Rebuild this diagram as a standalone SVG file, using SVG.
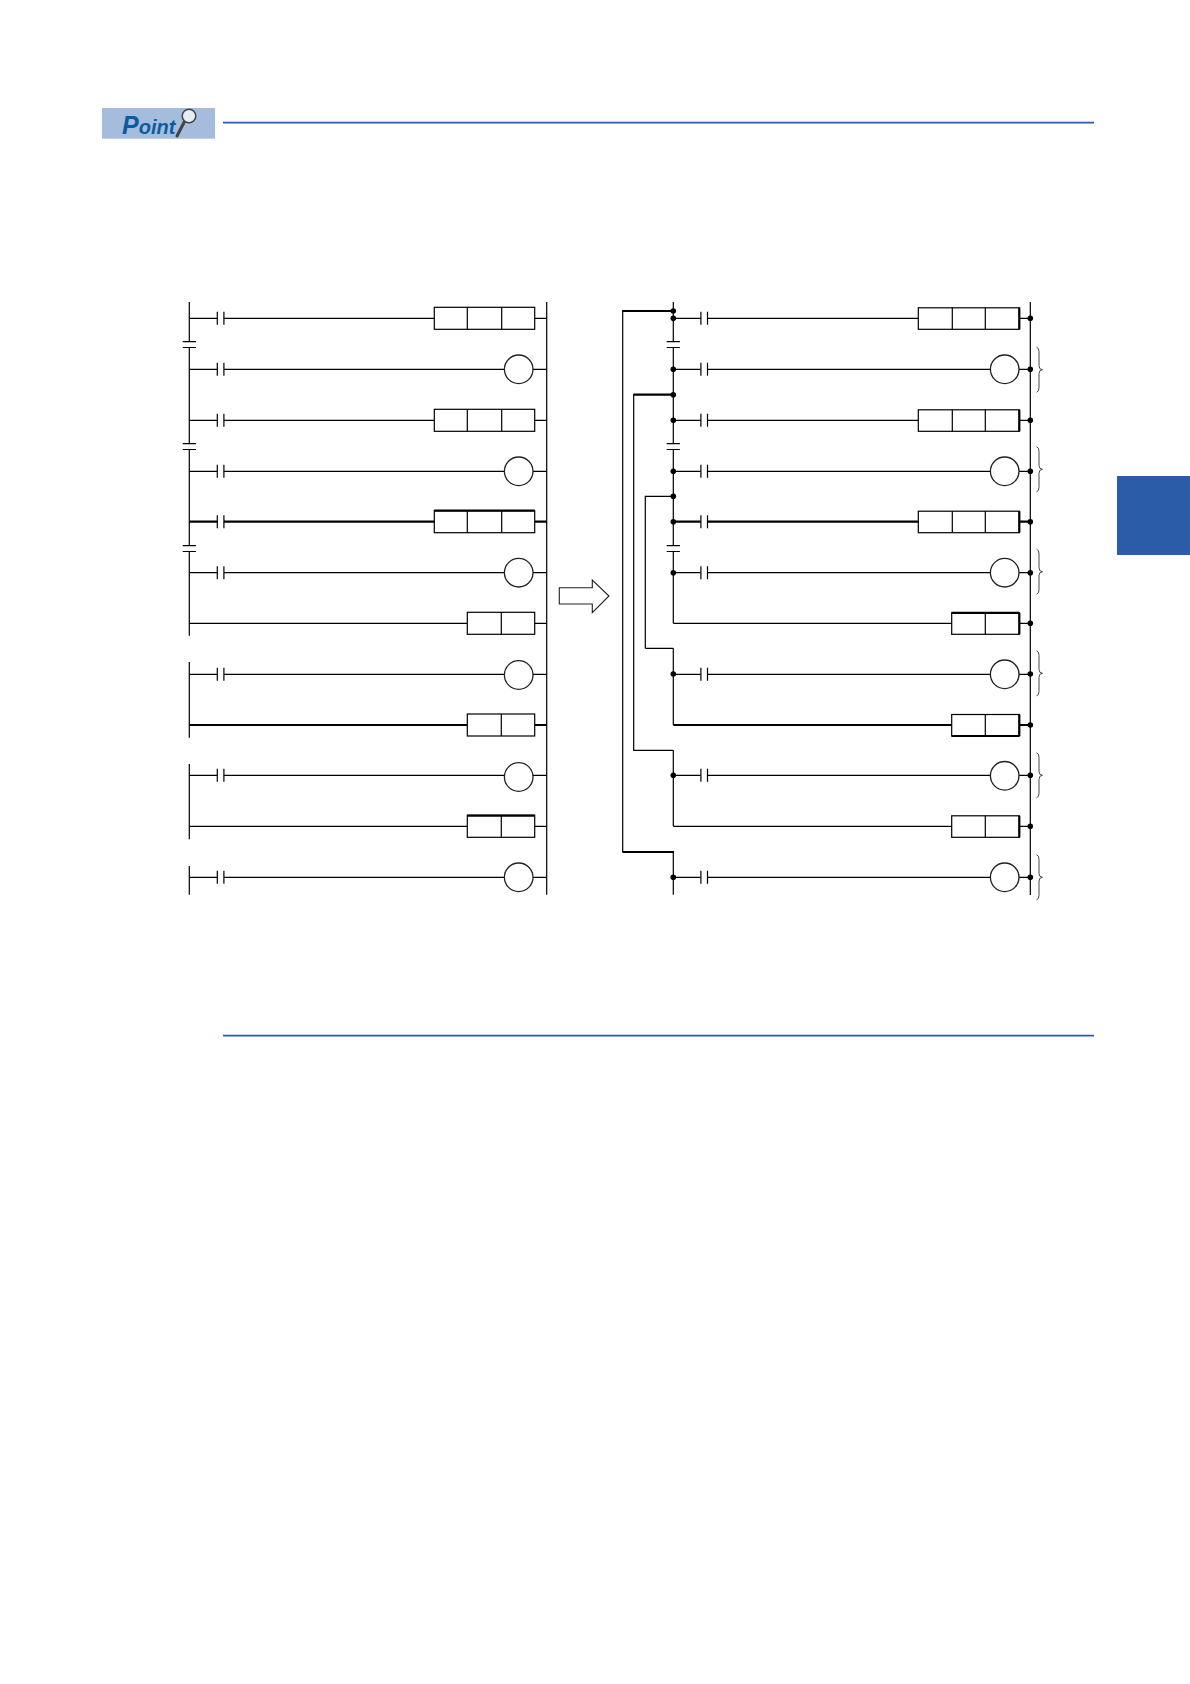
<svg xmlns="http://www.w3.org/2000/svg" width="1190" height="1684" viewBox="0 0 1190 1684">
<style>
.w{fill:none;stroke:#000;stroke-width:1.2}
.t{fill:none;stroke:#000;stroke-width:2.2}
.b{fill:#fff;stroke:#000;stroke-width:1.2}
.o{fill:#fff;stroke:#222;stroke-width:1.3}
.r{fill:none;stroke:#2a5ca8;stroke-width:1.7}
.d{fill:#000}
.br{fill:none;stroke:#333;stroke-width:.9}
.e{fill:none;stroke:#000;stroke-width:2.2}
</style>
<defs>
<g id="contact"><path class="w" d="M0-6.5V6.5M6.6-6.5V6.5"/></g>
<g id="box3"><rect class="b" x="0" y="-11" width="100.4" height="22"/><path class="w" d="M33 -11V11M67.4 -11V11"/></g>
<g id="box2"><rect class="b" x="0" y="-11" width="67.4" height="22"/><path class="w" d="M34 -11V11"/></g>
<g id="box3r"><rect class="b" x="0" y="-10.5" width="101" height="21.5"/><path class="w" d="M34 -10.5V11M67 -10.5V11"/><path class="e" d="M101-10.5V11"/></g>
<g id="box2r"><rect class="b" x="0" y="-10.5" width="67.6" height="21.5"/><path class="w" d="M33.6 -10.5V11"/><path class="e" d="M67.6-10.5V11"/></g>
<circle id="coil" class="o" r="14.3"/>
<path id="plates" class="w" d="M-6.6 0H6.6M-6.6 5.8H6.6"/>
<path id="brace" class="br" d="M1036.5-22.5Q1039-22 1039-18V-4Q1039 0 1042.5 0Q1039 0 1039 4V18Q1039 22 1036.5 22.5"/>
</defs>
<rect width="1190" height="1684" fill="#fff"/>

<g id="point-badge">
<rect x="102" y="108" width="113" height="30.7" fill="#a5bcdc"/>
<text x="122" y="134" font-family="Liberation Sans, sans-serif" font-weight="700" font-style="italic" fill="#0b5c9e"><tspan font-size="25">P</tspan><tspan font-size="20">oint</tspan></text>
<path d="M184.5 121.5L177 136" stroke="#444" stroke-width="3" fill="none" stroke-linecap="round"/>
<circle cx="189" cy="116" r="6.8" fill="#e6edf4" stroke="#444" stroke-width="1.5"/>
</g>
<path id="rule-top" class="r" d="M223 122.7H1094"/>
<path id="rule-bottom" class="r" d="M223 1035.7H1094"/>
<rect id="side-tab" x="1117" y="476" width="73" height="79" fill="#2a5ca8"/>

<g id="connectors">
<g id="left-wires">
<path class="w" d="M189.3 302V341.7M189.3 347.5V443.7M189.3 449.5V545.7M189.3 551.5V635.7M189.3 662V737.7M189.3 764V839.3M189.3 866V894.7M546.7 302V894.7"/>
<path class="w" d="M189.3 318.3H217.3M224 318.3H434.3M534.7 318.3H546.7"/>
<path class="w" d="M189.3 369.3H217.3M224 369.3H504.4M533 369.3H546.7"/>
<path class="w" d="M189.3 420.3H217.3M224 420.3H434.3M534.7 420.3H546.7"/>
<path class="w" d="M189.3 471.3H217.3M224 471.3H504.4M533 471.3H546.7"/>
<path class="t" d="M189.3 521.7H217.3M224 521.7H434.3M534.7 521.7H546.7"/>
<path class="w" d="M189.3 572.7H217.3M224 572.7H504.4M533 572.7H546.7"/>
<path class="w" d="M189.3 623.3H467.3M534.7 623.3H546.7"/>
<path class="w" d="M189.3 674.3H217.3M224 674.3H504.4M533 674.3H546.7"/>
<path class="t" d="M189.3 725H467.3M534.7 725H546.7"/>
<path class="w" d="M189.3 775.3H217.3M224 775.3H504.4M533 775.3H546.7"/>
<path class="w" d="M189.3 826.3H467.3M534.7 826.3H546.7"/>
<path class="w" d="M189.3 877.3H217.3M224 877.3H504.4M533 877.3H546.7"/>
</g>
<g id="right-wires">
<path class="w" d="M673.3 302V341.7M673.3 347.5V443.7M673.3 449.5V545.7M673.3 551.5V623.3M673.3 648.3V725M673.3 750.3V826.3M673.3 852V894.7M1030.3 302V895"/>
<path class="t" d="M673.3 311H622.7M673.3 394.7H633.7M622.7 852H674"/>
<path class="w" d="M622.7 310V852.5M633.7 394V750.3H673.3M645.3 648.3V496.3H673.3M645.3 648.3H673.3"/>
<path class="w" d="M673.3 318.3H700.7M708 318.3H918.3M1019.3 318.3H1030.3"/>
<path class="w" d="M673.3 369.3H700.7M708 369.3H990.4M1019 369.3H1030.3"/>
<path class="w" d="M673.3 420.3H700.7M708 420.3H918.3M1019.3 420.3H1030.3"/>
<path class="w" d="M673.3 471.3H700.7M708 471.3H990.4M1019 471.3H1030.3"/>
<path class="t" d="M673.3 521.7H700.7M708 521.7H918.3M1019.3 521.7H1030.3"/>
<path class="w" d="M673.3 572.7H700.7M708 572.7H990.4M1019 572.7H1030.3"/>
<path class="w" d="M673.3 623.3H951.7M1019.3 623.3H1030.3"/>
<path class="w" d="M673.3 674.3H700.7M708 674.3H990.4M1019 674.3H1030.3"/>
<path class="t" d="M673.3 725H951.7M1019.3 725H1030.3"/>
<path class="w" d="M673.3 775.3H700.7M708 775.3H990.4M1019 775.3H1030.3"/>
<path class="w" d="M673.3 826.3H951.7M1019.3 826.3H1030.3"/>
<path class="w" d="M673.3 877.3H700.7M708 877.3H990.4M1019 877.3H1030.3"/>
</g>
<g id="junctions">
<circle class="d" cx="673.3" cy="311" r="2.8"/><circle class="d" cx="673.3" cy="318.3" r="2.8"/><circle class="d" cx="673.3" cy="369.3" r="2.8"/><circle class="d" cx="673.3" cy="394.7" r="2.8"/><circle class="d" cx="673.3" cy="420.3" r="2.8"/><circle class="d" cx="673.3" cy="471.3" r="2.8"/><circle class="d" cx="673.3" cy="496.3" r="2.8"/><circle class="d" cx="673.3" cy="521.7" r="2.8"/><circle class="d" cx="673.3" cy="572.7" r="2.8"/><circle class="d" cx="673.3" cy="674" r="2.8"/><circle class="d" cx="673.3" cy="775.3" r="2.8"/><circle class="d" cx="673.3" cy="877.3" r="2.8"/>
<circle class="d" cx="1030.3" cy="318.3" r="2.8"/><circle class="d" cx="1030.3" cy="369.3" r="2.8"/><circle class="d" cx="1030.3" cy="420.3" r="2.8"/><circle class="d" cx="1030.3" cy="471.3" r="2.8"/><circle class="d" cx="1030.3" cy="521.7" r="2.8"/><circle class="d" cx="1030.3" cy="572.7" r="2.8"/><circle class="d" cx="1030.3" cy="623.3" r="2.8"/><circle class="d" cx="1030.3" cy="674" r="2.8"/><circle class="d" cx="1030.3" cy="725" r="2.8"/><circle class="d" cx="1030.3" cy="775.3" r="2.8"/><circle class="d" cx="1030.3" cy="826.3" r="2.8"/><circle class="d" cx="1030.3" cy="877.3" r="2.8"/>
</g>
</g>

<g id="left-contacts">
<g id="lc1"><use href="#contact" x="217.3" y="318.3"/></g>
<g id="lc2"><use href="#contact" x="217.3" y="369.3"/></g>
<g id="lc3"><use href="#contact" x="217.3" y="420.3"/></g>
<g id="lc4"><use href="#contact" x="217.3" y="471.3"/></g>
<g id="lc5"><use href="#contact" x="217.3" y="521.7"/></g>
<g id="lc6"><use href="#contact" x="217.3" y="572.7"/></g>
<g id="lc8"><use href="#contact" x="217.3" y="674.3"/></g>
<g id="lc10"><use href="#contact" x="217.3" y="775.3"/></g>
<g id="lc12"><use href="#contact" x="217.3" y="877.3"/></g>
<g id="lp1"><use href="#plates" x="189.3" y="341.7"/></g>
<g id="lp2"><use href="#plates" x="189.3" y="443.7"/></g>
<g id="lp3"><use href="#plates" x="189.3" y="545.7"/></g>
</g>
<g id="left-outputs">
<g id="lo1"><use href="#box3" x="434.3" y="318.3"/></g>
<g id="lo2"><use href="#coil" x="518.7" y="369.3"/></g>
<g id="lo3"><use href="#box3" x="434.3" y="420.3"/></g>
<g id="lo4"><use href="#coil" x="518.7" y="471.3"/></g>
<g id="lo5"><use href="#box3" x="434.3" y="521.7"/><path class="e" d="M434.3 510.7H534.7"/></g>
<g id="lo6"><use href="#coil" x="518.7" y="572.7"/></g>
<g id="lo7"><use href="#box2" x="467.3" y="623.3"/></g>
<g id="lo8"><use href="#coil" x="518.7" y="675"/></g>
<g id="lo9"><use href="#box2" x="467.3" y="725"/></g>
<g id="lo10"><use href="#coil" x="518.7" y="777"/></g>
<g id="lo11"><use href="#box2" x="467.3" y="826.3"/><path class="e" d="M467.3 815.7H534.7"/></g>
<g id="lo12"><use href="#coil" x="518.7" y="877.3"/></g>
</g>

<path id="arrow" fill="#fff" stroke="#222" stroke-width="1.1" d="M559.3 587.7H592.3V580L609 596L592.3 612.7V604H559.3Z"/>

<g id="right-contacts">
<g id="rc1"><use href="#contact" x="700.9" y="318.3"/></g>
<g id="rc2"><use href="#contact" x="700.9" y="369.3"/></g>
<g id="rc3"><use href="#contact" x="700.9" y="420.3"/></g>
<g id="rc4"><use href="#contact" x="700.9" y="471.3"/></g>
<g id="rc5"><use href="#contact" x="700.9" y="521.7"/></g>
<g id="rc6"><use href="#contact" x="700.9" y="572.7"/></g>
<g id="rc8"><use href="#contact" x="700.9" y="674.3"/></g>
<g id="rc10"><use href="#contact" x="700.9" y="775.3"/></g>
<g id="rc12"><use href="#contact" x="700.9" y="877.3"/></g>
<g id="rp1"><use href="#plates" x="673.3" y="341.7"/></g>
<g id="rp2"><use href="#plates" x="673.3" y="443.7"/></g>
<g id="rp3"><use href="#plates" x="673.3" y="545.7"/></g>
</g>
<g id="right-outputs">
<g id="ro1"><use href="#box3r" x="918.3" y="318.3"/></g>
<g id="ro2"><use href="#coil" x="1004.7" y="369.3"/></g>
<g id="ro3"><use href="#box3r" x="918.3" y="420.3"/></g>
<g id="ro4"><use href="#coil" x="1004.7" y="471.3"/></g>
<g id="ro5"><use href="#box3r" x="918.3" y="521.7"/></g>
<g id="ro6"><use href="#coil" x="1004.7" y="572.7"/></g>
<g id="ro7"><use href="#box2r" x="951.7" y="623.3"/><path class="e" d="M951.7 612.8H1019.3"/></g>
<g id="ro8"><use href="#coil" x="1004.7" y="674.3"/></g>
<g id="ro9"><use href="#box2r" x="951.7" y="725"/><path class="e" d="M951.7 736H1019.3"/></g>
<g id="ro10"><use href="#coil" x="1004.7" y="775.8"/></g>
<g id="ro11"><use href="#box2r" x="951.7" y="826.3"/></g>
<g id="ro12"><use href="#coil" x="1004.7" y="877.3"/></g>
</g>

<g id="braces">
<use href="#brace" y="369.7"/><use href="#brace" y="469.3"/><use href="#brace" y="571.7"/><use href="#brace" y="673.3"/><use href="#brace" y="775.3"/><use href="#brace" y="877.3"/>
</g>
</svg>
